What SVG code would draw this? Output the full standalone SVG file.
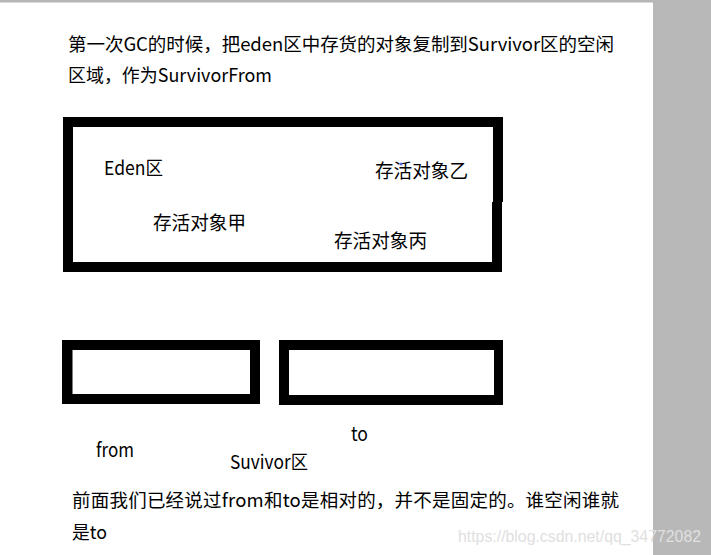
<svg xmlns="http://www.w3.org/2000/svg" width="711" height="555" viewBox="0 0 711 555">
  <style>
    text { font-family: "Noto Sans CJK SC", "Noto Sans", sans-serif; fill: #000; }
    .t { font-size: 18.5px; }
    .lbl { font-size: 19px; }
    .box { fill: #000; fill-rule: evenodd; }
    .wm { font-family: "Liberation Sans", Arial, sans-serif; font-size: 16px; fill: #e0e0e0; }
  </style>
  <rect x="0" y="0" width="711" height="555" fill="#ffffff"/>
  <rect x="0" y="0" width="711" height="2.5" fill="#b5b6b5"/>
  <rect x="653" y="0" width="58" height="555" fill="#b7b8b7"/>

  <g id="title">
    <text class="t" x="68" y="51" textLength="546" lengthAdjust="spacing">第一次GC的时候，把eden区中存货的对象复制到Survivor区的空闲</text>
    <text class="t" x="68" y="82" textLength="204" lengthAdjust="spacingAndGlyphs">区域，作为SurvivorFrom</text>
  </g>

  <g id="eden">
    <path class="box" d="M63 117 H503 V202 H502 V272 H63 Z M73 127 V262 H492 V202 H493 V127 Z"/>
    <text class="lbl" x="104" y="175" textLength="59" lengthAdjust="spacingAndGlyphs">Eden区</text>
    <text class="lbl" x="375" y="178" textLength="93" lengthAdjust="spacingAndGlyphs">存活对象乙</text>
    <circle cx="401" cy="164" r="1.6" fill="#5a6ad8"/>
    <text class="lbl" x="153" y="230" textLength="93" lengthAdjust="spacingAndGlyphs">存活对象甲</text>
    <text class="lbl" x="334" y="248" textLength="93" lengthAdjust="spacingAndGlyphs">存活对象丙</text>
  </g>

  <g id="from">
    <path class="box" d="M62 340 H260 V404 H62 Z M72.5 350 V394 H250 V350 Z"/>
    <text class="lbl" x="96" y="457" textLength="38" lengthAdjust="spacingAndGlyphs">from</text>
  </g>

  <g id="to">
    <path class="box" d="M279 340 H503 V405 H279 Z M289 350 V395 H494 V350 Z"/>
    <text class="lbl" x="351" y="441" textLength="17" lengthAdjust="spacingAndGlyphs">to</text>
  </g>

  <g id="survivor">
    <text class="lbl" x="230" y="469" textLength="78" lengthAdjust="spacingAndGlyphs">Suvivor区</text>
  </g>

  <g id="connectors"></g>

  <g id="note">
    <text class="t" x="72" y="507" textLength="547" lengthAdjust="spacing">前面我们已经说过from和to是相对的，并不是固定的。谁空闲谁就</text>
    <text class="t" x="72" y="539" textLength="35" lengthAdjust="spacingAndGlyphs">是to</text>
  </g>

  <text class="wm" x="458" y="542" textLength="243" lengthAdjust="spacingAndGlyphs">https://blog.csdn.net/qq_34772082</text>
</svg>
